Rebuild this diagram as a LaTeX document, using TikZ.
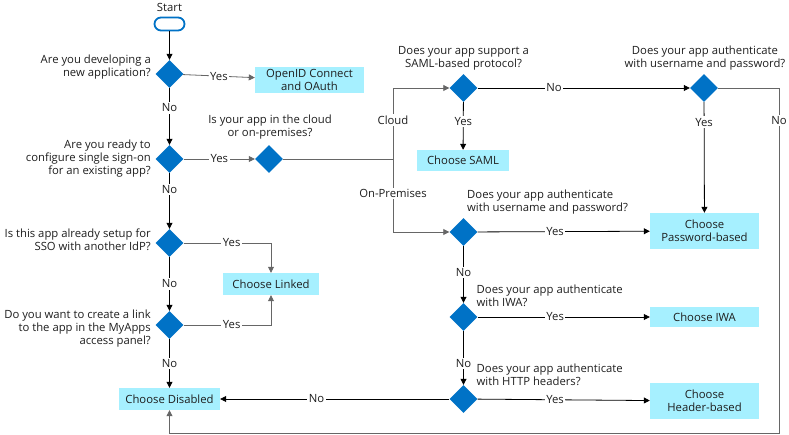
\documentclass[tikz,border=0pt]{standalone}
\usepackage{fontspec}
\setmainfont{Open Sans}
\usetikzlibrary{shapes.geometric,arrows.meta}
\definecolor{dblue}{HTML}{0072C6}
\definecolor{bcyan}{HTML}{A6F0FF}
\definecolor{lgray}{HTML}{666666}
\definecolor{txt}{HTML}{1E1E1E}
\begin{document}
\begin{tikzpicture}[x=1pt,y=-1pt,
  every node/.style={font=\fontsize{11.3}{13}\selectfont, text=txt},
  dec/.style={diamond, fill=dblue, minimum width=28pt, minimum height=28pt, inner sep=0pt, aspect=1},
  res/.style={fill=bcyan, inner sep=0pt, align=center},
  q/.style={align=center, inner sep=0pt},
  lab/.style={fill=white, inner sep=1.5pt},
  arr/.style={-{Triangle[length=6pt,width=6pt]}, line width=0.8pt},
  ln/.style={line width=0.8pt},
  gl/.style={draw=lgray}
]
\useasboundingbox (0,0) rectangle (789,435);
% start
\node[draw=dblue, line width=1.8pt, rounded corners=6.5pt, minimum width=30pt, minimum height=13pt, inner sep=0pt] (start) at (169.5,24) {};
\node[q] (startlab) at (169.5,7) {Start};
% decisions
\node[dec] (d1) at (169.5,74) {};
\node[dec] (d2) at (169.5,159) {};
\node[dec] (d3) at (269,159) {};
\node[dec] (d9) at (169.5,243) {};
\node[dec] (d10) at (169.5,325) {};
\node[dec] (d4) at (463.5,88) {};
\node[dec] (d5) at (704,88) {};
\node[dec] (d6) at (463.5,232) {};
\node[dec] (d7) at (463.5,317) {};
\node[dec] (d8) at (463.5,399) {};
% questions
\node[q, align=right, anchor=east] (q1) at (151,67.5) {Are you developing a\\new application?};
\node[q, align=right, anchor=east] (q2) at (151,159) {Are you ready to\\configure single sign-on\\for an existing app?};
\node[q] (q3) at (270,127) {Is your app in the cloud\\or on-premises?};
\node[q, align=right, anchor=east] (q9) at (151,240) {Is this app already setup for\\SSO with another IdP?};
\node[q, align=right, anchor=east] (q10) at (151,328.5) {Do you want to create a link\\to the app in the MyApps\\access panel?};
\node[q] (q4) at (463.5,58.5) {Does your app support a\\SAML-based protocol?};
\node[q] (q5) at (705,58.5) {Does your app authenticate\\with username and password?};
\node[q, align=left, anchor=west] (q6) at (467,202) {Does your app authenticate\\with username and password?};
\node[q, align=left, anchor=west] (q7) at (476.5,296) {Does your app authenticate\\with IWA?};
\node[q, align=left, anchor=west] (q8) at (476.5,374.5) {Does your app authenticate\\with HTTP headers?};
% results
\node[res, minimum width=109pt, minimum height=26pt] (oidc) at (309.5,80) {OpenID Connect\\and OAuth};
\node[res, minimum width=92pt, minimum height=21pt] (saml) at (463,160.5) {Choose SAML};
\node[res, minimum width=109pt, minimum height=36pt] (pw) at (704.5,231) {Choose\\Password-based};
\node[res, minimum width=109pt, minimum height=20pt] (iwa) at (704.5,317) {Choose IWA};
\node[res, minimum width=109pt, minimum height=36pt] (hdr) at (704.5,401) {Choose\\Header-based};
\node[res, minimum width=101pt, minimum height=22pt] (dis) at (169.5,399) {Choose Disabled};
\node[res, minimum width=96pt, minimum height=22pt] (lnk) at (271,284) {Choose Linked};
% junction coordinates
\coordinate (j) at (393,159);
\coordinate (jc) at (393,88);
\coordinate (jo) at (393,232);
\coordinate (r1) at (779,88);
\coordinate (r2) at (779,433);
\coordinate (r3) at (169.5,433);
\coordinate (y9) at (271,243);
\coordinate (y10) at (271,325);
% connectors
\draw[arr] (start) -- (d1);
\draw[arr, gl] (d1) -- node[lab] {Yes} (oidc);
\draw[arr] (d1) -- node[lab, pos=0.35] {No} (d2);
\draw[arr, gl] (d2) -- node[lab] {Yes} (d3);
\draw[ln, gl] (d3) -- (j);
\draw[arr, gl] (j) -- node[lab, pos=0.55] {Cloud} (jc) -- (d4);
\draw[arr, gl] (j) -- node[lab, pos=0.47] {On-Premises} (jo) -- (d6);
\draw[arr] (d4) -- node[lab, pos=0.4] {Yes} (saml);
\draw[arr] (d4) -- node[lab, pos=0.36] {No} (d5);
\draw[arr] (d5) -- node[lab, pos=0.18] {Yes} (pw);
\draw[arr, gl] (d5) -- (r1) -- node[lab, pos=0.095] {No} (r2) -- (r3) -- (dis);
\draw[arr] (d6) -- node[lab, pos=0.45] {Yes} (pw);
\draw[arr] (d6) -- node[lab, pos=0.47] {No} (d7);
\draw[arr] (d7) -- node[lab, pos=0.45] {Yes} (iwa);
\draw[arr] (d7) -- node[lab, pos=0.6] {No} (d8);
\draw[arr] (d8) -- node[lab, pos=0.58] {No} (dis);
\draw[arr] (d8) -- node[lab, pos=0.45] {Yes} (hdr);
\draw[arr] (d2) -- node[lab, pos=0.3] {No} (d9);
\draw[arr, gl] (d9) -- node[lab, pos=0.55] {Yes} (y9) -- (lnk);
\draw[arr] (d9) -- node[lab, pos=0.5] {No} (d10);
\draw[arr, gl] (d10) -- node[lab, pos=0.55] {Yes} (y10) -- (lnk);
\draw[arr] (d10) -- node[lab, pos=0.5] {No} (dis);
\end{tikzpicture}
\end{document}
